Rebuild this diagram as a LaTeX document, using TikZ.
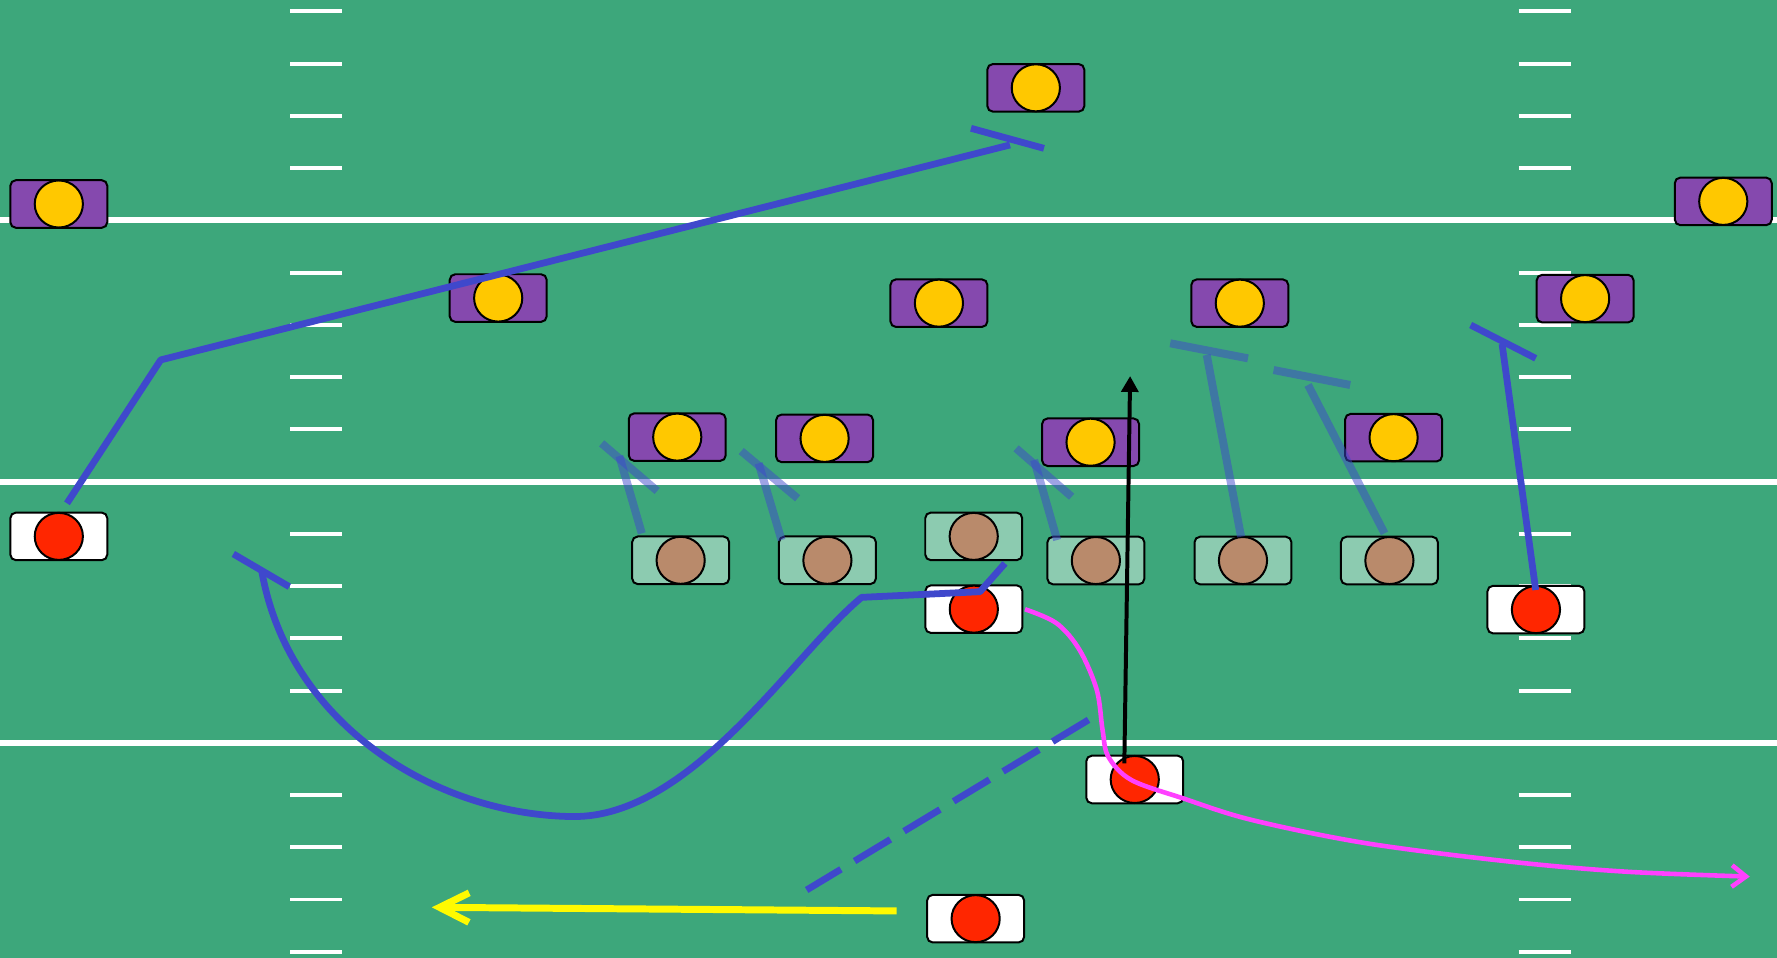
\documentclass[tikz,border=0pt]{standalone}
\usetikzlibrary{arrows.meta,shapes.geometric}
\definecolor{field}{RGB}{61,167,123}
\definecolor{dpurple}{RGB}{133,73,174}
\definecolor{dyellow}{RGB}{255,200,0}
\definecolor{ored}{RGB}{255,38,0}
\definecolor{obrown}{RGB}{185,138,107}
\definecolor{lteal}{RGB}{140,203,176}
\definecolor{routeblue}{RGB}{63,72,204}
\definecolor{routemag}{RGB}{255,64,255}
\definecolor{routeyel}{RGB}{255,250,0}
\begin{document}
\begin{tikzpicture}[x=0.01cm,y=-0.01cm,
  pbox/.style={draw=black, line width=0.5pt, rounded corners=1.4pt, minimum width=0.855cm, minimum height=0.42cm, inner sep=0pt, outer sep=0pt},
  pdot/.style={ellipse, draw=black, line width=0.5pt, minimum width=0.425cm, minimum height=0.415cm, inner sep=0pt, outer sep=0pt},
  defbox/.style={pbox, fill=dpurple},
  defdot/.style={pdot, fill=dyellow},
  linebox/.style={pbox, fill=lteal},
  linedot/.style={pdot, fill=obrown},
  offbox/.style={pbox, fill=white},
  offdot/.style={pdot, fill=ored},
  route/.style={draw=routeblue, line width=1.7pt, line join=round},
  lroute/.style={draw=routeblue, draw opacity=0.5, line width=2pt},
  fieldline/.style={draw=white, line width=1.5pt},
  hashmark/.style={draw=white, line width=1pt}]
\fill[field] (0,0) rectangle (1568,845);
\useasboundingbox (0,0) rectangle (1568,845);
% yard lines
\foreach \yy in {194.4,425,655.4} \draw[fieldline] (0,\yy) -- (1568,\yy);
% hash marks
\foreach \k in {-4,-3,-2,-1,1,2,3,4,6,7,8,9,11,12,13,14} {
  \draw[hashmark] (256,194.4+46.1*\k) -- (302,194.4+46.1*\k);
  \draw[hashmark] (1340,194.4+46.1*\k) -- (1386,194.4+46.1*\k);
}
% defense
\foreach \nm/\px/\py in {d1/914/77.5, d2/51.9/180, d3/1520.6/177.7, d4/439.6/263, d5/828.5/267.5, d6/1094/267.5, d7/1398.7/263.5, d8/597.6/385.7, d9/727.6/386.8, d10/962.3/390.2, d11/1229.7/386.2} {
  \node[defbox] (\nm) at (\px,\py) {};
  \node[defdot] (\nm c) at (\px,\py) {};
}
% line
\foreach \nm/\px/\py in {l1/600.6/494.4, l2/730.1/494.4, l3/859.2/473.3, l4/967/494.6, l5/1096.8/494.6, l6/1226/494.6} {
  \node[linebox] (\nm) at (\px,\py) {};
  \node[linedot] (\nm c) at (\px,\py) {};
}
% offense
\foreach \nm/\px/\py in {o1/51.9/473.3, o2/859.3/537.5, o3/1355.3/537.9, o4/1001.3/687.8, o5/860.9/810.6} {
  \node[offbox] (\nm) at (\px,\py) {};
  \node[offdot] (\nm c) at (\px,\py) {};
}
% lineman routes
\coordinate (l1a) at (566.3,470.6); \coordinate (l1b) at (546.5,402.4);
\coordinate (l2a) at (689.6,476.5); \coordinate (l2b) at (669.4,408.8);
\coordinate (l4a) at (932.8,476.5); \coordinate (l4b) at (912.5,405.9);
\coordinate (l5a) at (1095.1,473.6); \coordinate (l5b) at (1064.8,313.2);
\coordinate (l6a) at (1221.7,470.6); \coordinate (l6b) at (1154.2,339.7);
\draw[lroute] (l1a) -- (l1b); \draw[lroute] (530.9,391.2) -- (579.9,433.2);
\draw[lroute] (l2a) -- (l2b); \draw[lroute] (654.1,398) -- (703.8,439.7);
\draw[lroute] (l4a) -- (l4b); \draw[lroute] (896.6,395.6) -- (945.6,438.3);
\draw[lroute] (l5a) -- (l5b); \draw[lroute] (1032.6,302.9) -- (1101.2,316.2);
\draw[lroute] (l6a) -- (l6b); \draw[lroute] (1123.8,326.5) -- (1191.4,339.7);
% left receiver route
\coordinate (o1a) at (59.1,444.1);
\coordinate (o1k) at (141.8,317.6);
\coordinate (o1e) at (891.2,127.9);
\draw[route] (o1a) -- (o1k) -- (o1e);
\draw[route] (856.8,113.2) -- (921.2,130.9);
% right receiver route
\coordinate (o3a) at (1355.1,520.6);
\coordinate (o3e) at (1325.4,303.5);
\draw[route] (o3a) -- (o3e);
\draw[route] (1297.7,286.8) -- (1355.1,316.2);
% curved route
\coordinate (o2a) at (886.8,497.1);
\coordinate (o2k) at (864.7,522.1);
\coordinate (o2m) at (760.3,527.1);
\coordinate (o2b) at (505,720.5);
\coordinate (o2e) at (231,504);
\draw[route] (o2a) -- (o2k) -- (o2m)
  .. controls (700,577) and (610,722) .. (o2b)
  .. controls (385,719) and (255,640) .. (o2e);
\draw[route] (205.9,488.8) -- (255.3,517.7);
% dashed route
\coordinate (dsa) at (960.5,635.2);
\coordinate (dse) at (711.8,785.3);
\draw[route, dash pattern=on 0.37cm off 0.14cm] (dsa) -- (dse);
% black arrow
\coordinate (bka) at (992.1,673.6);
\coordinate (bke) at (997.2,331.8);
\draw[black, line width=1pt, -{Triangle[width=0.148cm,length=0.14cm]}] (bka) -- (bke);
% magenta route
\draw[draw=routemag, line width=1.15pt, -{Straight Barb[length=0.125cm,width=0.19cm]}] plot[smooth, tension=0.55] coordinates {(904.5,537.6) (932.4,550) (952.6,573.5) (967.8,608.8) (972.9,644.1) (978,667.7) (998.2,688.2) (1043.8,704.4) (1104.5,723.5) (1205.8,744.1) (1332.5,760.3) (1433.8,769.1) (1544,773.5)};
% yellow arrow
\coordinate (ya) at (791.2,803.8);
\coordinate (ye) at (381,800.6);
\draw[draw=routeyel, line width=1.75pt, -{Straight Barb[length=0.26cm,width=0.26cm]}] (ya) -- (ye);
\end{tikzpicture}
\end{document}
